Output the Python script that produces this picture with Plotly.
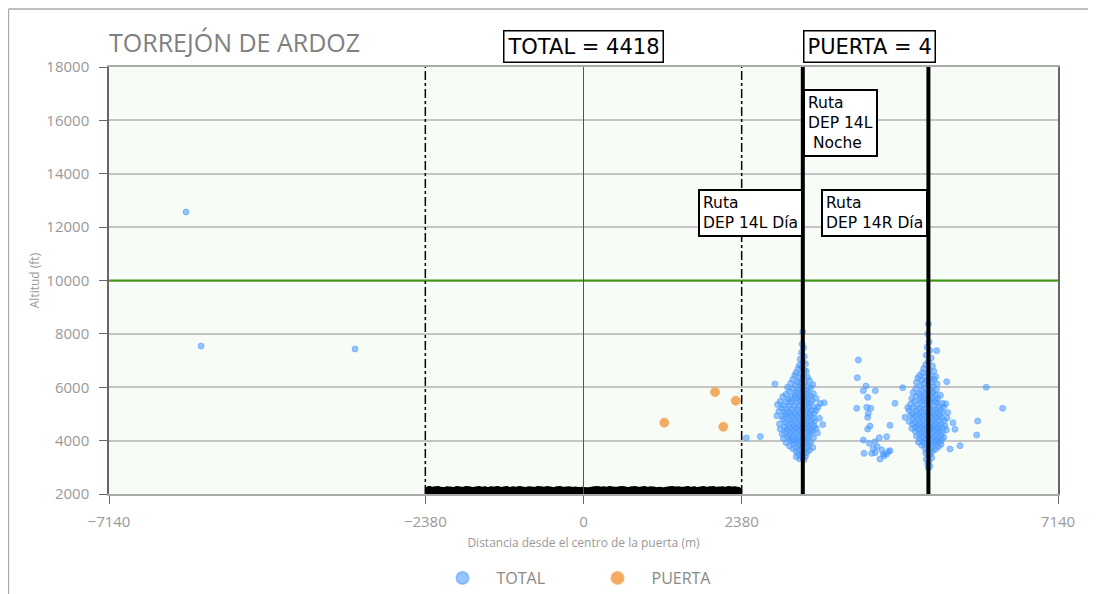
import plotly.graph_objects as go

# gate location, runway route centre lines (m) and altitude limit (ft)
gate_half = 2380
x_limit = 7140
route_14l = 3300
route_14r = 5190
alt_limit = 10000

total_count = 4418
gate_count = 4

# tracks crossing the gate line (x m, altitude ft)
route_14l_pts = [
    (3300, 8080), (3290, 7620), (3310, 7480), (3280, 7300), (3320, 7150), (3260, 7050),
    (3300, 6950), (3340, 6880), (3250, 6820), (3290, 6750), (3230, 6700), (3320, 6650),
    (3350, 6600), (3200, 6550), (3270, 6520), (3180, 6450), (3310, 6420), (3370, 6380),
    (3240, 6350), (3150, 6300), (3290, 6280), (3400, 6250), (3220, 6200), (3330, 6180),
    (3120, 6150), (3260, 6120), (3450, 6100), (3190, 6080), (3350, 6050), (3280, 6020),
    (2880, 6120), (3070, 6000), (3420, 5990), (3150, 5950), (3230, 5930), (3310, 5900),
    (3380, 5880), (3100, 5850), (3200, 5830), (3270, 5810), (3360, 5790), (3460, 5760),
    (3050, 5740), (3180, 5720), (3250, 5700), (3330, 5690), (3420, 5670), (3000, 5650),
    (3130, 5640), (3210, 5620), (3290, 5600), (3380, 5590), (3500, 5580), (3080, 5560),
    (3160, 5540), (3250, 5530), (3340, 5510), (3440, 5500), (2960, 5470), (3050, 5460),
    (3120, 5450), (3200, 5440), (3280, 5420), (3350, 5410), (3410, 5400), (3560, 5390),
    (3620, 5420), (2920, 5350), (3000, 5330), (3090, 5320), (3170, 5310), (3240, 5300),
    (3310, 5290), (3380, 5280), (3460, 5270), (3530, 5260), (2980, 5220), (3060, 5200),
    (3140, 5190), (3220, 5180), (3300, 5170), (3360, 5160), (3430, 5150), (3500, 5140),
    (2940, 5100), (3020, 5090), (3100, 5080), (3180, 5070), (3260, 5060), (3330, 5050),
    (3400, 5040), (3470, 5030), (3040, 5000), (3120, 4990), (3200, 4980), (3280, 4970),
    (3350, 4960), (3420, 4950), (2910, 4930), (2990, 4920), (3070, 4900), (3150, 4890),
    (3230, 4880), (3310, 4870), (3380, 4860), (3460, 4850), (3550, 4840), (3000, 4800),
    (3090, 4790), (3170, 4780), (3250, 4770), (3320, 4760), (3400, 4750), (3480, 4740),
    (3040, 4700), (3130, 4690), (3210, 4680), (3290, 4670), (3360, 4660), (3440, 4650),
    (3600, 4600), (2950, 4620), (3080, 4600), (3160, 4590), (3240, 4580), (3310, 4570),
    (3390, 4560), (3470, 4550), (3020, 4520), (3110, 4510), (3190, 4500), (3270, 4490),
    (3340, 4480), (3420, 4470), (3500, 4460), (2960, 4440), (3060, 4430), (3150, 4420),
    (3230, 4410), (3300, 4400), (3370, 4390), (3450, 4380), (3030, 4350), (3120, 4340),
    (3200, 4330), (3280, 4320), (3350, 4310), (3430, 4300), (3520, 4290), (2990, 4250),
    (3090, 4240), (3170, 4230), (3250, 4220), (3320, 4210), (3400, 4200), (3070, 4150),
    (3150, 4140), (3230, 4130), (3300, 4120), (3380, 4110), (3460, 4100), (2660, 4150),
    (3010, 4080), (3110, 4060), (3200, 4050), (3280, 4040), (3350, 4030), (3120, 4000),
    (3190, 3980), (3270, 3960), (3340, 3950), (3420, 3940), (3050, 3920), (3160, 3890),
    (3240, 3870), (3310, 3860), (3390, 3840), (3100, 3800), (3200, 3780), (3280, 3760),
    (3360, 3750), (3450, 3740), (3150, 3700), (3250, 3680), (3320, 3660), (3400, 3640),
    (3200, 3600), (3290, 3580), (3360, 3560), (3230, 3520), (3310, 3500), (3270, 3450),
    (3340, 3420), (3200, 3400), (3300, 3370), (3250, 3320), (3320, 3290),
]

route_14r_pts = [
    (5190, 8370), (5180, 8000), (5200, 7700), (5170, 7500), (5210, 7380), (5314, 7369),
    (5160, 7200), (5230, 7100), (5190, 6950), (5150, 6850), (5250, 6800), (5120, 6700),
    (5200, 6650), (5270, 6600), (5100, 6550), (5180, 6520), (5060, 6450), (5220, 6430),
    (5300, 6400), (5140, 6380), (5030, 6350), (5200, 6330), (5280, 6300), (5090, 6280),
    (5170, 6250), (5465, 6208), (5240, 6200), (5010, 6180), (5120, 6150), (5320, 6120),
    (5190, 6100), (5070, 6060), (5260, 6030), (4803, 5983), (5140, 5980), (5000, 5950),
    (5220, 5930), (5310, 5900), (5090, 5870), (5180, 5850), (5260, 5830), (4960, 5800),
    (5050, 5780), (5130, 5760), (5210, 5740), (5290, 5720), (5370, 5700), (5010, 5680),
    (5100, 5660), (5180, 5640), (5250, 5620), (5330, 5600), (4940, 5580), (5060, 5560),
    (5140, 5540), (5220, 5520), (5300, 5510), (4980, 5480), (5080, 5470), (5160, 5460),
    (5240, 5440), (5320, 5420), (5400, 5400), (5450, 5380), (4920, 5360), (5020, 5340),
    (5110, 5330), (5190, 5320), (5270, 5300), (5350, 5290), (5420, 5270), (4880, 5240),
    (4960, 5230), (5050, 5220), (5130, 5210), (5210, 5200), (5290, 5180), (5370, 5170),
    (6307, 5211), (4900, 5130), (5000, 5120), (5080, 5110), (5160, 5100), (5240, 5090),
    (5320, 5080), (5400, 5060), (5480, 5050), (4950, 5020), (5040, 5010), (5120, 5000),
    (5200, 4990), (5280, 4980), (5360, 4970), (4838, 4874), (4920, 4950), (5000, 4930),
    (5080, 4920), (5160, 4910), (5240, 4900), (5310, 4880), (5390, 4870), (5470, 4850),
    (4960, 4820), (5040, 4810), (5120, 4800), (5200, 4790), (5280, 4780), (5350, 4770),
    (5430, 4750), (5931, 4735), (4900, 4720), (4990, 4710), (5070, 4700), (5150, 4690),
    (5230, 4680), (5300, 4670), (5560, 4671), (5380, 4650), (4950, 4620), (5040, 4610),
    (5120, 4600), (5200, 4590), (5270, 4580), (5350, 4570), (5440, 4560), (5000, 4530),
    (5090, 4520), (5170, 4510), (5250, 4500), (5330, 4490), (5410, 4480), (4940, 4460),
    (5030, 4450), (5110, 4440), (5190, 4430), (5590, 4424), (5270, 4420), (5350, 4410),
    (5460, 4400), (4990, 4360), (5080, 4350), (5160, 4340), (5240, 4330), (5320, 4320),
    (5400, 4300), (5060, 4260), (5140, 4250), (5220, 4240), (5300, 4230), (5916, 4211),
    (5380, 4220), (5010, 4170), (5100, 4160), (5180, 4150), (5260, 4140), (5340, 4130),
    (5420, 4120), (5060, 4080), (5150, 4070), (5230, 4060), (5310, 4050), (5390, 4040),
    (5110, 4000), (5200, 3990), (5280, 3970), (5360, 3960), (5040, 3940), (5130, 3920),
    (5220, 3900), (5300, 3880), (5665, 3810), (5380, 3860), (5090, 3830), (5180, 3810),
    (5260, 3790), (5340, 3770), (5140, 3720), (5220, 3700), (5300, 3680), (5514, 3686),
    (5180, 3620), (5250, 3600), (5150, 3540), (5220, 3500), (5190, 3420), (5240, 3360),
    (5160, 3300), (5200, 3220), (5180, 3120), (5210, 3050), (5190, 2974),
]

scattered_pts = [
    (-5981, 12566), (-5755, 7545), (-3438, 7433), (6060, 6000),
    (4135, 7021), (4120, 6358), (4251, 6046), (4211, 5871), (4391, 5871), (4276, 5623),
    (4111, 5211), (4261, 5249), (4321, 5211), (4286, 5024), (4276, 4874), (4687, 5398),
    (4311, 4548), (4276, 4435), (4612, 4573), (4211, 4023), (4301, 3899), (4386, 3960),
    (4451, 4110), (4562, 4147), (4421, 3772), (4487, 3649), (4361, 3711), (4221, 3524),
    (4336, 3524), (4386, 3548), (4511, 3499), (4586, 3585), (4612, 3622), (4461, 3311),
    (4562, 3499), (4522, 3424), (2450, 4100),
]

# tracks inside the gate itself (orange)
gate_pts = [(1979, 5822), (2290, 5496), (1216, 4671), (2104, 4521)]

# ground-level returns inside the gate width
ground_pts = [
    (-2320, 2130), (-2280, 2100), (-2235, 2120), (-2190, 2135), (-2140, 2105),
    (-2095, 2090), (-2050, 2125), (-2000, 2115), (-1955, 2095), (-1905, 2130), (-1860, 2110),
    (-1810, 2100), (-1765, 2135), (-1720, 2120), (-1670, 2090), (-1625, 2115), (-1575, 2130),
    (-1530, 2105), (-1485, 2120), (-1435, 2095), (-1390, 2125), (-1340, 2110), (-1295, 2135),
    (-1250, 2100), (-1200, 2115), (-1155, 2130), (-1105, 2090), (-1060, 2120), (-1015, 2105),
    (-965, 2135), (-920, 2110), (-870, 2095), (-825, 2125), (-780, 2115), (-730, 2100),
    (-685, 2130), (-635, 2120), (-590, 2105), (-545, 2135), (-495, 2110), (-450, 2095),
    (-400, 2120), (-355, 2130), (-310, 2105), (-260, 2115), (-215, 2125), (-165, 2100),
    (-120, 2110), (-75, 2090), (-25, 2105), (20, 2095), (70, 2085), (115, 2100),
    (160, 2120), (210, 2135), (255, 2110), (305, 2125), (350, 2100), (395, 2130),
    (445, 2115), (490, 2105), (540, 2125), (585, 2135), (630, 2110), (680, 2095),
    (725, 2120), (775, 2130), (820, 2105), (865, 2115), (915, 2135), (960, 2100),
    (1010, 2120), (1055, 2110), (1100, 2095), (1150, 2105), (1195, 2080), (1245, 2100),
    (1290, 2120), (1335, 2135), (1385, 2110), (1430, 2125), (1480, 2100), (1525, 2115),
    (1570, 2130), (1620, 2105), (1665, 2120), (1715, 2095), (1760, 2110), (1805, 2130),
    (1855, 2100), (1900, 2120), (1950, 2135), (1995, 2105), (2040, 2115), (2090, 2125),
    (2135, 2100), (2185, 2130), (2230, 2110), (2275, 2120), (2320, 2105),
]

x_ticks = [-x_limit, -gate_half, 0, gate_half, x_limit]

total_pts = route_14l_pts + route_14r_pts + scattered_pts
tx, ty = zip(*total_pts)
gx, gy = zip(*gate_pts)
bx, by = zip(*ground_pts)

fig = go.Figure()

fig.add_trace(go.Scatter(
    x=bx, y=by, mode='markers', showlegend=False, hoverinfo='skip',
    marker=dict(size=9, color='black'),
))
fig.add_trace(go.Scatter(
    x=tx, y=ty, mode='markers', name='TOTAL',
    marker=dict(size=6, color='rgba(50,140,255,0.5)',
                line=dict(color='rgba(100,170,255,0.7)', width=1)),
))
fig.add_trace(go.Scatter(
    x=gx, y=gy, mode='markers', name='PUERTA',
    marker=dict(size=9, color='rgba(240,150,60,0.8)',
                line=dict(color='rgba(245,175,100,0.9)', width=1)),
))

shapes = [
    # altitude limit
    dict(type='line', xref='paper', x0=0, x1=1, y0=alt_limit, y1=alt_limit,
         line=dict(color='#3f9a10', width=2)),
    # gate centre
    dict(type='line', x0=0, x1=0, y0=2000, y1=18000, line=dict(color='#555', width=1)),
]
for xv in (-gate_half, gate_half):
    shapes.append(dict(type='line', x0=xv, x1=xv, y0=2000, y1=18000, layer='above',
                       line=dict(color='black', width=1.5, dash='dashdot')))
for xv in (route_14l, route_14r):
    shapes.append(dict(type='line', x0=xv, x1=xv, y0=2000, y1=18000, layer='above',
                       line=dict(color='black', width=4)))

# frame around the widget
shapes += [
    dict(type='line', xref='paper', yref='paper', x0=-0.106, x1=1.05, y0=1.136, y1=1.136,
         line=dict(color='#aaa', width=1.5)),
    dict(type='line', xref='paper', yref='paper', x0=-0.106, x1=-0.106, y0=-0.24, y1=1.136,
         line=dict(color='#aaa', width=1.5)),
]

box_font = dict(family='DejaVu Sans', size=21, color='black')
route_font = dict(family='DejaVu Sans', size=15.5, color='black')
annotations = [
    dict(x=0, y=1.049, yref='paper', yanchor='middle', text=f'TOTAL = {total_count}',
         showarrow=False, font=box_font, bgcolor='white', bordercolor='black',
         borderwidth=1.5, borderpad=3),
    dict(x=4310, y=1.049, yref='paper', yanchor='middle', text=f'PUERTA = {gate_count}',
         showarrow=False, font=box_font, bgcolor='white', bordercolor='black',
         borderwidth=1.5, borderpad=3),
    dict(x=route_14l, y=17170, xanchor='left', yanchor='top', align='left',
         text='Ruta<br>DEP 14L<br>\u00a0Noche', showarrow=False, font=route_font,
         bgcolor='white', bordercolor='black', borderwidth=2, borderpad=3),
    dict(x=route_14l, y=13430, xanchor='right', yanchor='top', align='left',
         text='Ruta<br>DEP 14L Día', showarrow=False, font=route_font,
         bgcolor='white', bordercolor='black', borderwidth=2, borderpad=3),
    dict(x=route_14r, y=13430, xanchor='right', yanchor='top', align='left',
         text='Ruta<br>DEP 14R Día', showarrow=False, font=route_font,
         bgcolor='white', bordercolor='black', borderwidth=2, borderpad=3),
]

tick_font = dict(family='Open Sans', size=15, color='#999')

# the page adds an 8px body margin, so the figure is shrunk and the margins shifted
fig.update_layout(
    width=1088, height=586,
    margin=dict(l=101, r=38, t=59, b=100, autoexpand=False),
    paper_bgcolor='white',
    plot_bgcolor='#f7fcf7',
    title=dict(text='TORREJÓN DE ARDOZ', x=0, xref='paper', xanchor='left',
               y=1 - 35 / 586, yref='container', yanchor='middle',
               font=dict(family='Open Sans', size=25, color='#808080')),
    xaxis=dict(range=[-x_limit, x_limit], tickvals=x_ticks, showgrid=False, zeroline=False,
               ticks='outside', ticklen=8, tickcolor='#666', tickfont=tick_font,
               ticklabelstandoff=5,
               showline=True, linecolor='#aaa', linewidth=2, mirror=True, automargin=False,
               title=dict(text='Distancia desde el centro de la puerta (m)', standoff=9,
                          font=dict(family='Open Sans', size=12, color='#999'))),
    yaxis=dict(range=[2000, 18000], dtick=2000, tickformat='d', showgrid=True,
               gridcolor='#c4c4c4', gridwidth=2, zeroline=False, automargin=False,
               ticks='outside', ticklen=8, tickcolor='#666', tickfont=tick_font,
               ticklabelstandoff=7,
               showline=True, linecolor='#666', linewidth=1.5, mirror=True,
               title=dict(text='Altitud (ft)', standoff=4,
                          font=dict(family='Open Sans', size=12, color='#999'))),
    legend=dict(orientation='h', x=0.5, xanchor='center', y=(594 - 578) / 586,
                yref='container', yanchor='middle',
                itemsizing='constant', itemwidth=58, entrywidth=82, entrywidthmode='pixels',
                font=dict(family='Open Sans', size=16, color='#888'),
                bgcolor='rgba(0,0,0,0)'),
    shapes=shapes,
    annotations=annotations,
)

fig.write_html("out.html")
